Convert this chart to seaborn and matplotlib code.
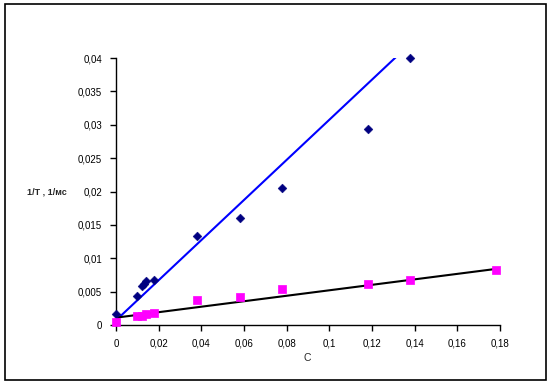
import numpy as np
import pandas as pd
import matplotlib
matplotlib.use("Agg")
import matplotlib.pyplot as plt
import seaborn as sns
from matplotlib.patches import Rectangle

# Data
c_blue = [0, 0.010, 0.012, 0.013, 0.014, 0.018, 0.038, 0.058, 0.078, 0.118, 0.138]
y_blue = [0.0017, 0.0044, 0.0059, 0.0062, 0.0066, 0.0068, 0.0134, 0.0160, 0.0205, 0.0294, 0.0400]
c_pink = [0, 0.010, 0.012, 0.014, 0.018, 0.038, 0.058, 0.078, 0.118, 0.138, 0.178]
y_pink = [0.0005, 0.0013, 0.0013, 0.0017, 0.0018, 0.0038, 0.0042, 0.0054, 0.0061, 0.0067, 0.0083]
# trend lines (intercept, slope)
trend_blue = [0.0007, 0.3005]
trend_pink = [0.0011, 0.0410]
x_ticks = [0, 0.02, 0.04, 0.06, 0.08, 0.10, 0.12, 0.14, 0.16, 0.18]
x_ticklabels = ["0", "0,02", "0,04", "0,06", "0,08", "0,1", "0,12", "0,14", "0,16", "0,18"]
y_ticks = [0, 0.005, 0.01, 0.015, 0.02, 0.025, 0.03, 0.035, 0.04]
y_ticklabels = ["0", "0,005", "0,01", "0,015", "0,02", "0,025", "0,03", "0,035", "0,04"]

sns.set_style("white")
plt.rcParams['font.family'] = ['Liberation Sans', 'DejaVu Sans']

fig = plt.figure(figsize=(5.49, 3.84), dpi=100)
ax = fig.add_axes([116/549, 1-325/384, 384/549, 267/384])

df_b = pd.DataFrame({"c": c_blue, "y": y_blue})
df_p = pd.DataFrame({"c": c_pink, "y": y_pink})

xb = np.array([min(c_blue), max(c_blue)])
xp = np.array([min(c_pink), max(c_pink)])
sns.lineplot(x=xb, y=trend_blue[0] + trend_blue[1] * xb, ax=ax, color="#0000FF", lw=1.5)
sns.lineplot(x=xp, y=trend_pink[0] + trend_pink[1] * xp, ax=ax, color="black", lw=1.5)
sns.scatterplot(data=df_b, x="c", y="y", ax=ax, marker="D", s=20, color="#000080",
                edgecolor="#000080", zorder=3, clip_on=False)
sns.scatterplot(data=df_p, x="c", y="y", ax=ax, marker="s", s=40, color="#FF00FF",
                edgecolor="#FF00FF", zorder=3, clip_on=False)

ax.set_xlim(0, 0.18)
ax.set_ylim(0, 0.04)
ax.set_xticks(x_ticks)
ax.set_xticklabels(x_ticklabels)
ax.set_yticks(y_ticks)
ax.set_yticklabels(y_ticklabels)
ax.tick_params(axis="both", direction="out", length=4, width=1, labelsize=7, colors="black",
               bottom=True, left=True, pad=6)
for s in ["top", "right"]:
    ax.spines[s].set_visible(False)
for s in ["left", "bottom"]:
    ax.spines[s].set_color("black")
    ax.spines[s].set_linewidth(1)
ax.set_xlabel("")
ax.set_ylabel("")

fig.text(307/549, 1-358/384, "C", ha="center", va="center", fontsize=7.5)
fig.text(47/549, 1-192/384, "1/Т , 1/мс", ha="center", va="center", fontsize=6.5, fontweight="bold")

fig.patches.append(Rectangle((5/549, 4/384), 541/549, 376/384, transform=fig.transFigure,
                             fill=False, edgecolor="black", lw=1.2))

fig.savefig("out.png", dpi=100)
